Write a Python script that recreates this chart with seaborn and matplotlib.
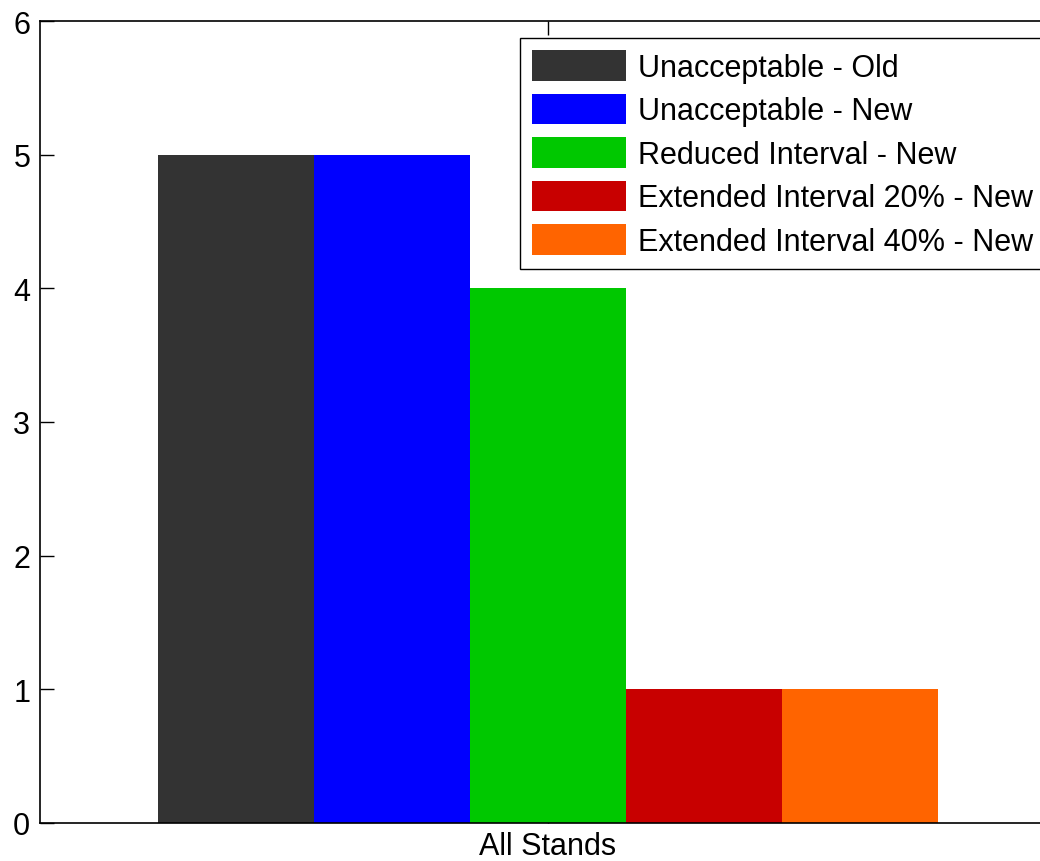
import matplotlib
matplotlib.use("Agg")
import matplotlib.pyplot as plt
import seaborn as sns
import pandas as pd

categories = ["All Stands"]
series = ["Unacceptable - Old", "Unacceptable - New", "Reduced Interval - New",
          "Extended Interval 20% - New", "Extended Interval 40% - New"]
values = [5, 5, 4, 1, 1]
colors = ["#333333", "#0000FF", "#00C800", "#C80000", "#FF6400"]
yticks = [0, 1, 2, 3, 4, 5, 6]

sns.set_theme(style="white")
plt.rcParams['font.family'] = ['Liberation Sans', 'DejaVu Sans']
plt.rcParams['text.color'] = 'black'

df = pd.DataFrame({"cat": categories * len(series), "series": series, "value": values})

W, H = 1040, 862
fig = plt.figure(figsize=(W / 100, H / 100), dpi=100)
ax = fig.add_axes([40 / W, (H - 824) / H, 1016 / W, (824 - 22) / H])

sns.barplot(data=df, x="cat", y="value", hue="series", hue_order=series,
            palette=colors, width=0.768, gap=0, saturation=1, linewidth=0,
            ax=ax, legend=True)

ax.set_xlim(-0.5, 0.5)
ax.set_ylim(0, 6)
ax.set_yticks(yticks)
ax.set_xlabel("")
ax.set_ylabel("")
for s in ax.spines.values():
    s.set_color("black")
    s.set_linewidth(1.2)
ax.tick_params(axis="both", direction="in", length=10, width=1, colors="black",
               labelsize=22, top=True, left=True, bottom=True, right=True)
ax.tick_params(axis="x", pad=6)
ax.tick_params(axis="y", pad=7)

leg = ax.legend(loc="upper left", bbox_to_anchor=(520 / W, 1 - 39 / H),
                bbox_transform=fig.transFigure, fontsize=22, frameon=True,
                fancybox=False, edgecolor="black", framealpha=1,
                handlelength=3.07, handleheight=1.15, handletextpad=0.4,
                labelspacing=0.36, borderpad=0.4, borderaxespad=0)
leg.get_frame().set_linewidth(1.0)
for t in leg.get_texts():
    t.set_color("black")

fig.savefig("out.png", dpi=100)
